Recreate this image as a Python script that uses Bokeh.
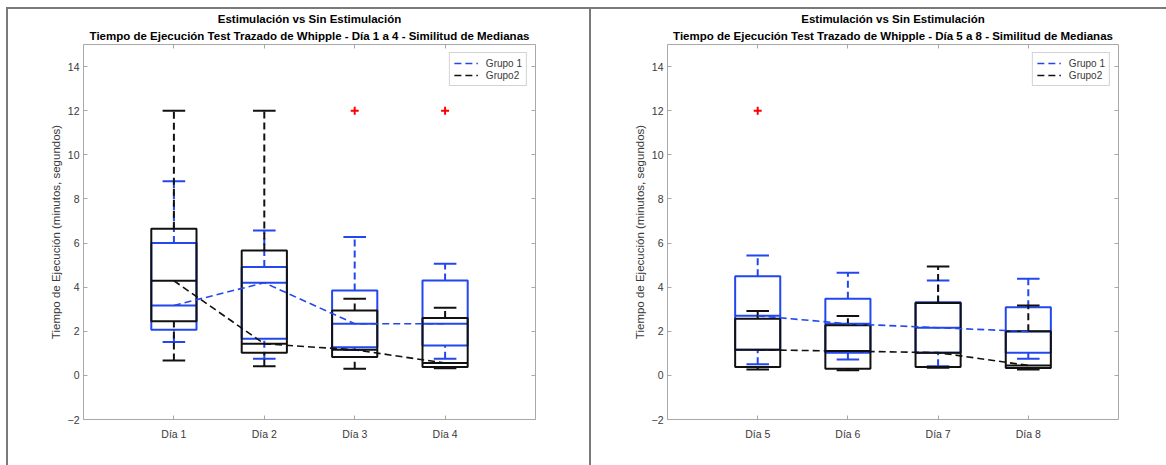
import numpy as np
from bokeh.plotting import figure
from bokeh.layouts import row
from bokeh.models import FixedTicker, Title, LinearAxis, Legend, LegendItem, Range1d
from bokeh.embed import file_html
from bokeh.resources import INLINE

# ---------------- data ----------------
dias_izq = ["Día 1", "Día 2", "Día 3", "Día 4"]
dias_der = ["Día 5", "Día 6", "Día 7", "Día 8"]

# Grupo 1 (azul) - días 1 a 4
g1_izq_min = [1.51, 0.75, 1.15, 0.75]
g1_izq_q1 = [2.07, 1.66, 1.28, 1.36]
g1_izq_med = [3.17, 4.20, 2.34, 2.34]
g1_izq_q3 = [6.00, 4.91, 3.85, 4.30]
g1_izq_max = [8.80, 6.57, 6.27, 5.06]
# Grupo2 (negro) - días 1 a 4
g2_izq_min = [0.68, 0.41, 0.30, 0.32]
g2_izq_q1 = [2.45, 1.03, 0.83, 0.38]
g2_izq_med = [4.29, 1.43, 1.16, 0.56]
g2_izq_q3 = [6.65, 5.66, 2.94, 2.60]
g2_izq_max = [12.0, 12.0, 3.47, 3.07]
# valores atípicos días 1 a 4
out_izq_dia = ["Día 3", "Día 4"]
out_izq_val = [12.0, 12.0]

# Grupo 1 (azul) - días 5 a 8
g1_der_min = [0.50, 0.72, 0.41, 0.75]
g1_der_q1 = [1.16, 1.03, 1.03, 1.03]
g1_der_med = [2.70, 2.34, 2.16, 1.99]
g1_der_q3 = [4.49, 3.47, 3.32, 3.09]
g1_der_max = [5.44, 4.65, 4.30, 4.38]
# Grupo2 (negro) - días 5 a 8
g2_der_min = [0.27, 0.23, 0.35, 0.27]
g2_der_q1 = [0.38, 0.30, 0.38, 0.33]
g2_der_med = [1.16, 1.10, 1.03, 0.45]
g2_der_q3 = [2.57, 2.27, 3.28, 2.00]
g2_der_max = [2.92, 2.69, 4.94, 3.17]
# valores atípicos días 5 a 8
out_der_dia = ["Día 5"]
out_der_val = [12.0]

y_ticks = [-2, 0, 2, 4, 6, 8, 10, 12, 14]
titulo_1 = "Estimulación vs Sin Estimulación"
sub_izq = "Tiempo de Ejecución Test Trazado de Whipple - Día 1 a 4 - Similitud de Medianas"
sub_der = "Tiempo de Ejecución Test Trazado de Whipple - Día 5 a 8 - Similitud de Medianas"
y_label = "Tiempo de Ejecución (minutos, segundos)"
leg_1 = "Grupo 1"
leg_2 = "Grupo2"

# ---------------- style ----------------
FONT = "Liberation Sans"
BLUE = "#2347ee"
BLACK = "#111111"
AX = "#a8a8a8"
TXT = "#3a3a3a"
BOX = 0.25
CAP = 0.125
LINE_GRAY = "#7a7a7a"


def draw_group(p, xs, lo, q1, med, q3, hi, color):
    lo, q1, med, q3, hi = map(np.asarray, (lo, q1, med, q3, hi))
    p.segment(x0=xs, y0=q3, x1=xs, y1=hi, line_color=color, line_width=2, line_dash="7 4")
    p.segment(x0=xs, y0=lo, x1=xs, y1=q1, line_color=color, line_width=2, line_dash="7 4")
    p.segment(x0=xs - CAP, y0=hi, x1=xs + CAP, y1=hi, line_color=color, line_width=2)
    p.segment(x0=xs - CAP, y0=lo, x1=xs + CAP, y1=lo, line_color=color, line_width=2)
    p.quad(left=xs - BOX, right=xs + BOX, bottom=q1, top=q3, fill_color=None,
           line_color=color, line_width=2)
    p.segment(x0=xs - BOX, y0=med, x1=xs + BOX, y1=med, line_color=color, line_width=2)


def panel(dias, g1, g2, out_dias, out_vals, subtitle, width, bl, br, styles):
    n = len(dias)
    xs = np.arange(1, n + 1, dtype=float)
    p = figure(width=width, height=465, x_range=Range1d(0, n + 1), y_range=Range1d(-2, 15),
               output_backend="svg", toolbar_location=None, title_location=None,
               min_border_left=bl, min_border_right=br, min_border_top=44, min_border_bottom=46,
               border_fill_alpha=0, styles=styles)
    p.xgrid.visible = False
    p.ygrid.visible = False
    p.outline_line_color = AX
    p.outline_line_width = 1

    # axes
    xa = p.xaxis[0]
    xa.ticker = FixedTicker(ticks=list(xs))
    xa.major_label_overrides = {int(i + 1): d for i, d in enumerate(dias)}
    ya = p.yaxis[0]
    ya.ticker = FixedTicker(ticks=y_ticks)
    ya.axis_label = y_label
    for a in (xa, ya):
        a.axis_line_color = None
        a.major_tick_line_color = AX
        a.major_tick_in = 4
        a.major_tick_out = 0
        a.minor_tick_line_color = None
        a.major_label_text_font = FONT
        a.major_label_text_font_size = "10.5px"
        a.major_label_text_color = TXT
    xa.major_label_standoff = 8
    ya.major_label_standoff = 4
    ya.axis_label_text_font = FONT
    ya.axis_label_text_font_size = "11.5px"
    ya.axis_label_text_font_style = "normal"
    ya.axis_label_text_color = TXT
    ya.axis_label_standoff = 3

    top = LinearAxis(ticker=FixedTicker(ticks=list(xs)),
                     major_label_overrides={int(i + 1): "" for i in range(n)})
    right = LinearAxis(ticker=FixedTicker(ticks=y_ticks),
                       major_label_overrides={t: "" for t in y_ticks})
    for a in (top, right):
        a.axis_line_color = None
        a.major_tick_line_color = AX
        a.major_tick_in = 4
        a.major_tick_out = 0
        a.minor_tick_line_color = None
        a.major_label_standoff = 0
        a.major_label_text_font_size = "1px"
    p.add_layout(top, "above")
    p.add_layout(right, "right")

    p.add_layout(Title(text=subtitle, align="center", text_font=FONT, text_font_size="11.5px",
                       text_font_style="bold", text_color="black", standoff=5), "above")
    p.add_layout(Title(text=titulo_1, align="center", text_font=FONT, text_font_size="11.5px",
                       text_font_style="bold", text_color="black", standoff=1), "above")

    draw_group(p, xs, *g1, BLUE)
    draw_group(p, xs, *g2, BLACK)

    r1 = p.line(xs, g1[2], line_color=BLUE, line_width=1.6, line_dash="7 4")
    r2 = p.line(xs, g2[2], line_color=BLACK, line_width=1.6, line_dash="7 4")

    ox = [dias.index(d) + 1 for d in out_dias]
    p.scatter(ox, out_vals, marker="cross", size=8, line_width=2, color="red")

    leg = Legend(items=[LegendItem(label=leg_1, renderers=[r1]),
                        LegendItem(label=leg_2, renderers=[r2])],
                 location="top_right", margin=8, padding=4, spacing=0,
                 glyph_width=24, glyph_height=12, label_height=12, label_standoff=8,
                 label_text_font=FONT, label_text_font_size="10px", label_text_color=TXT,
                 border_line_color=AX, border_line_width=1, background_fill_color="white")
    p.add_layout(leg, "center")
    return p


g = "linear-gradient(%s,%s)" % (LINE_GRAY, LINE_GRAY)
styles_izq = {"background": f"{g} 6px 7px / 2px 458px no-repeat, {g} 6px 7px / 585px 2px no-repeat, "
                            f"{g} 589px 7px / 2px 458px no-repeat, #ffffff"}
styles_der = {"background": f"{g} 0px 7px / 575px 2px no-repeat, #ffffff"}

p1 = panel(dias_izq,
           (g1_izq_min, g1_izq_q1, g1_izq_med, g1_izq_q3, g1_izq_max),
           (g2_izq_min, g2_izq_q1, g2_izq_med, g2_izq_q3, g2_izq_max),
           out_izq_dia, out_izq_val, sub_izq, 591, 83, 56, styles_izq)
p2 = panel(dias_der,
           (g1_der_min, g1_der_q1, g1_der_med, g1_der_q3, g1_der_max),
           (g2_der_min, g2_der_q1, g2_der_med, g2_der_q3, g2_der_max),
           out_der_dia, out_der_val, sub_der, 575, 76, 48, styles_der)

layout = row(p1, p2)
open("out.html", "w").write(file_html(layout, INLINE))
